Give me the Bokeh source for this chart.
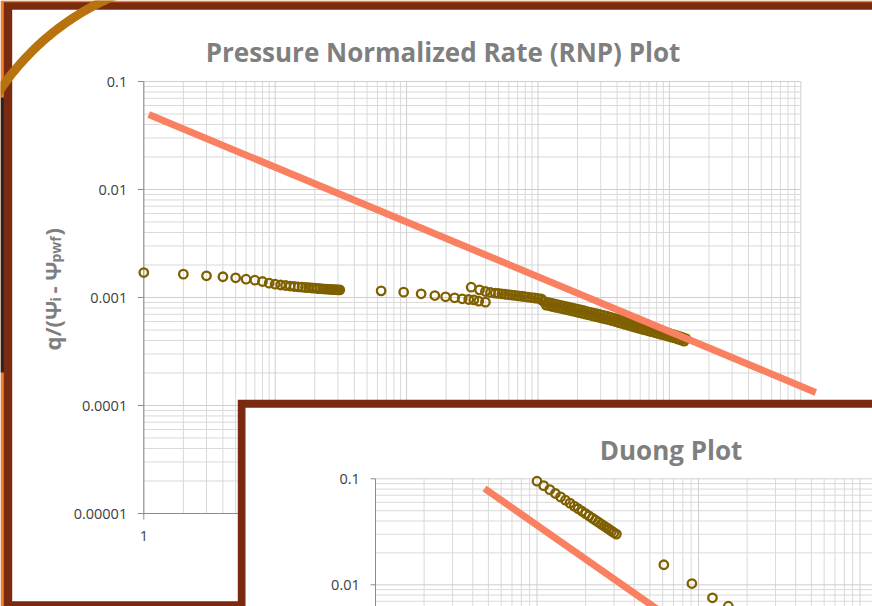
import numpy as np
from bokeh.plotting import figure
from bokeh.models import Range1d, LogScale, GlobalInlineStyleSheet, InlineStyleSheet
from bokeh.core.properties import value
from bokeh.embed import file_html
from bokeh.resources import INLINE

W, H = 872, 606

# ---------------- data: rate normalised by pseudo-pressure drop ----------------
# early daily readings (t in days)
rnp_daily_t = list(range(1, 32))
rnp_daily_q = [0.001703, 0.001644, 0.001589, 0.001556, 0.001522, 0.001477, 0.001446,
               0.001406, 0.001357, 0.001328, 0.001305, 0.001291, 0.001277, 0.001264,
               0.001256, 0.001248, 0.001237, 0.001232, 0.001224, 0.001219, 0.001211,
               0.001206, 0.001201, 0.001198, 0.001193, 0.001191, 0.001186, 0.001183,
               0.001181, 0.001178, 0.001176]
# monthly readings
rnp_monthly_t = [64, 95, 129, 164, 198, 232, 265, 297, 325, 354, 398]
rnp_monthly_q = [0.001153, 0.001120, 0.001082, 0.001043, 0.001015, 0.000994,
                 0.000973, 0.000958, 0.000952, 0.000924, 0.000905]
# later densely logged production
rnp_late_t = [310, 359, 398, 435, 473, 501, 531, 562, 596, 631, 668, 708, 750, 794,
              841, 891, 944, 1000, 1059, 1090,
              1122, 1155, 1189, 1223, 1259, 1296, 1334, 1372, 1413, 1454, 1496, 1540,
              1585, 1631, 1679, 1728, 1778, 1830, 1884, 1939, 1995, 2054, 2113, 2175,
              2239, 2304, 2371, 2441, 2512, 2585, 2661, 2738, 2818, 2901, 2985, 3073,
              3162, 3255, 3350, 3447, 3548, 3652, 3758, 3868, 3981, 4097, 4217, 4340,
              4467, 4597, 4732, 4870, 5012, 5158, 5309, 5464, 5623, 5788, 5957, 6131,
              6310, 6494, 6683, 6879, 7079, 7286, 7499, 7718, 7943, 8175, 8414, 8660,
              8913, 9173, 9441, 9716, 10000, 10292, 10593, 10902, 11220, 11548, 11885,
              12232, 12589, 12957, 13335]
rnp_late_q = [0.001245, 0.001178, 0.001137, 0.001112, 0.001099, 0.001090, 0.001081,
              0.001072, 0.001063, 0.001054, 0.001045, 0.001036, 0.001027, 0.001018,
              0.001008, 0.000999, 0.000989, 0.000980, 0.000971, 0.000928,
              0.000914, 0.000851, 0.000900, 0.000838, 0.000886, 0.000824, 0.000872,
              0.000811, 0.000858, 0.000799, 0.000845, 0.000786, 0.000831, 0.000774,
              0.000818, 0.000762, 0.000805, 0.000750, 0.000793, 0.000738, 0.000780,
              0.000725, 0.000767, 0.000713, 0.000754, 0.000701, 0.000741, 0.000690,
              0.000729, 0.000678, 0.000717, 0.000667, 0.000705, 0.000656, 0.000694,
              0.000645, 0.000682, 0.000634, 0.000671, 0.000623, 0.000658, 0.000611,
              0.000645, 0.000599, 0.000632, 0.000587, 0.000620, 0.000576, 0.000608,
              0.000564, 0.000596, 0.000553, 0.000584, 0.000542, 0.000573, 0.000532,
              0.000561, 0.000521, 0.000550, 0.000511, 0.000540, 0.000502, 0.000530,
              0.000492, 0.000520, 0.000483, 0.000510, 0.000474, 0.000500, 0.000465,
              0.000491, 0.000456, 0.000482, 0.000448, 0.000473, 0.000439, 0.000464,
              0.000431, 0.000455, 0.000423, 0.000446, 0.000413, 0.000436, 0.000404,
              0.000426, 0.000395, 0.000417]
assert len(rnp_late_t) == len(rnp_late_q)
# half-slope straight line
rnp_fit_t = [1.09, 130000]
rnp_fit_q = [0.0495, 0.000132]

# ---------------- data: Duong plot (q/Gp vs t) ----------------
duong_t = list(range(10, 32)) + [61, 91, 122, 153, 183]
duong_q = [0.0949, 0.0862, 0.0790, 0.0727, 0.0675, 0.0628, 0.0589, 0.0553, 0.0522,
           0.0494, 0.0469, 0.0447, 0.0426, 0.0407, 0.0390, 0.0374, 0.0359, 0.0346,
           0.0333, 0.0321, 0.0310, 0.0301,
           0.01545, 0.01028, 0.00754, 0.00628, 0.0052]
duong_fit_t = [4.73, 70]
duong_fit_q = [0.081, 0.0046]

# ---------------- axis ticks ----------------
rnp_x_ticks = [1, 10, 100, 1000, 10000, 100000]
rnp_x_label_ticks = [1]
rnp_x_labels = ["1"]
rnp_y_ticks = [0.1, 0.01, 0.001, 0.0001, 0.00001]
rnp_y_labels = ["0.1", "0.01", "0.001", "0.0001", "0.00001"]
duong_x_ticks = [1, 10, 100, 1000, 10000]
duong_y_ticks = [0.1, 0.01, 0.001]
duong_y_label_ticks = [0.1, 0.01]
duong_y_labels = ["0.1", "0.01"]

# ---------------- styling ----------------
ORANGE = "#EE7F2E"
BROWN = "#7A2A0E"
DARK = "#262626"
ARC = "#B8730F"
GRID = "#D9D9D9"
AXIS = "#8C8C8C"
MARK = "#7F6000"
FIT = "#FA8062"
TITLE = "#7F7F7F"
TICKTXT = "#404040"
FONT = value("Open Sans")
MSIZE, MLW = 8.5, 2.3

# plot-area placement on the page (pixels) and pixels per decade
RNP_X0, RNP_XDEC = 143.3, 131.4      # t = 1 at RNP_X0
RNP_Y0, RNP_YDEC = 81.0, 108.0       # q = 0.1 at RNP_Y0
DU_X0, DU_XDEC = 375.0, 161.5
DU_Y0, DU_YDEC = 478.3, 106.0


def log_xrange(px0, v0, dec):
    return Range1d(start=v0 * 10 ** (-px0 / dec), end=v0 * 10 ** ((W - px0) / dec))


def log_yrange(py0, v0, dec):
    return Range1d(start=v0 * 10 ** (-(H - py0) / dec), end=v0 * 10 ** (py0 / dec))


def rnp_x_at(px):
    return 10 ** ((px - RNP_X0) / RNP_XDEC)


def rnp_y_at(py):
    return 0.1 * 10 ** (-(py - RNP_Y0) / RNP_YDEC)


def du_x_at(px):
    return 10 ** ((px - DU_X0) / DU_XDEC)


NO_SCROLL = ("html, body { margin: 0; padding: 0; overflow: hidden; scrollbar-width: none; }\n"
             "::-webkit-scrollbar { display: none; width: 0; height: 0; }")

p = figure(frame_width=W, frame_height=H, x_range=Range1d(0, W), y_range=Range1d(H, 0),
           toolbar_location=None, output_backend="svg", min_border=0,
           x_axis_location=None, y_axis_location=None, title=None)
p.stylesheets = [GlobalInlineStyleSheet(css=NO_SCROLL),
                 InlineStyleSheet(css=":host { overflow: hidden; scrollbar-width: none; }\n"
                                      "* { scrollbar-width: none; }\n"
                                      "::-webkit-scrollbar { display: none; width: 0; height: 0; }")]
p.outline_line_color = None
p.background_fill_color = "white"
p.border_fill_color = "white"
p.extra_x_ranges = {"rx": log_xrange(RNP_X0, 1, RNP_XDEC),
                    "dx": log_xrange(DU_X0, 1, DU_XDEC)}
p.extra_y_ranges = {"ry": log_yrange(RNP_Y0, 0.1, RNP_YDEC),
                    "dy": log_yrange(DU_Y0, 0.1, DU_YDEC)}
p.extra_x_scales = {"rx": LogScale(), "dx": LogScale()}
p.extra_y_scales = {"ry": LogScale(), "dy": LogScale()}

R = dict(x_range_name="rx", y_range_name="ry")
D = dict(x_range_name="dx", y_range_name="dy")

# ---------------- slide frame (kept inside the page) ----------------
p.quad(left=0, right=W, top=0, bottom=H, fill_color=ORANGE, line_color=None)
p.quad(left=0, right=4, top=97, bottom=372, fill_color=DARK, line_color=None)
p.quad(left=3.3, right=W, top=1.7, bottom=H, fill_color=BROWN, line_color=None)
p.quad(left=11.7, right=W, top=9.3, bottom=600.7, fill_color="white", line_color=None)


def minors(k0, k1):
    return [m * 10.0 ** k for k in range(k0, k1) for m in range(2, 10)]


# ---------------- RNP chart ----------------
rx_min = minors(0, 5)
ry_min = minors(-5, -1)
p.segment(x0=rx_min, x1=rx_min, y0=1e-5, y1=0.1, line_color=GRID, line_width=1, **R)
p.segment(x0=1, x1=1e5, y0=ry_min, y1=ry_min, line_color=GRID, line_width=1, **R)
p.segment(x0=rnp_x_ticks, x1=rnp_x_ticks, y0=1e-5, y1=0.1, line_color="#CFCFCF", line_width=1, **R)
p.segment(x0=1, x1=1e5, y0=rnp_y_ticks, y1=rnp_y_ticks, line_color="#CFCFCF", line_width=1, **R)
# axis lines and tick marks
p.segment(x0=[1, 1], x1=[1, 1e5], y0=[1e-5, 1e-5], y1=[0.1, 1e-5], line_color=AXIS, line_width=1, **R)
p.segment(x0=rnp_x_at(RNP_X0 - 6), x1=1, y0=rnp_y_ticks, y1=rnp_y_ticks, line_color=AXIS, line_width=1, **R)
p.segment(x0=rnp_x_ticks, x1=rnp_x_ticks, y0=1e-5, y1=rnp_y_at(519), line_color=AXIS, line_width=1, **R)

for t, q in ((rnp_daily_t, rnp_daily_q), (rnp_monthly_t, rnp_monthly_q), (rnp_late_t, rnp_late_q)):
    p.scatter(t, q, marker="circle", size=MSIZE, line_color=MARK,
              line_width=MLW, fill_color=None, **R)
p.line(rnp_fit_t, rnp_fit_q, line_color=FIT, line_width=7, **R)

p.text(x=[1] * len(rnp_y_ticks), y=rnp_y_ticks, text=rnp_y_labels, x_offset=-16.6,
       text_font=FONT, text_font_size=value("14.5px"), text_color=TICKTXT,
       text_align="right", text_baseline="middle", **R)
p.text(x=rnp_x_label_ticks, y=[1e-5] * len(rnp_x_label_ticks), text=rnp_x_labels, y_offset=22.7,
       text_font=FONT, text_font_size=value("14.5px"), text_color=TICKTXT,
       text_align="center", text_baseline="middle", **R)

p.text(x=[442.5], y=[51.7], text=["Pressure Normalized Rate (RNP) Plot"],
       text_font=FONT, text_font_style="bold", text_font_size=value("26px"),
       text_color=TITLE, text_align="center", text_baseline="alphabetic")

# vertical axis title q/(Ψi - Ψpwf), pieced together for the subscripts
big = dict(text_font=FONT, text_font_style="bold", text_font_size=value("22px"),
           text_color=TITLE, angle=np.pi / 2, text_align="left", text_baseline="alphabetic")
small = dict(big, text_font_size=value("14px"))
p.text(x=[51], y=[350], text=["q/(Ψ"], **big)
p.text(x=[55], y=[301], text=["i"], **small)
p.text(x=[51], y=[293], text=["- Ψ"], **big)
p.text(x=[55], y=[262], text=["pwf"], **small)
p.text(x=[51], y=[235], text=[")"], **big)

# ---------------- Duong chart (inset slide) ----------------
p.quad(left=237.3, right=W, top=399.3, bottom=H, fill_color=BROWN, line_color=None)
p.quad(left=245, right=W, top=407.3, bottom=H, fill_color="white", line_color=None)

dx_min = minors(0, 4)
dy_min = minors(-3, -1)
p.segment(x0=dx_min, x1=dx_min, y0=1e-3, y1=0.1, line_color=GRID, line_width=1, **D)
p.segment(x0=1, x1=1e4, y0=dy_min, y1=dy_min, line_color=GRID, line_width=1, **D)
p.segment(x0=duong_x_ticks, x1=duong_x_ticks, y0=1e-3, y1=0.1, line_color="#CFCFCF", line_width=1, **D)
p.segment(x0=1, x1=1e4, y0=duong_y_ticks, y1=duong_y_ticks, line_color="#CFCFCF", line_width=1, **D)
p.segment(x0=[1], x1=[1], y0=[1e-3], y1=[0.1], line_color=AXIS, line_width=1, **D)
p.segment(x0=du_x_at(DU_X0 - 5), x1=1, y0=duong_y_ticks, y1=duong_y_ticks, line_color=AXIS, line_width=1, **D)

p.text(x=[1] * len(duong_y_label_ticks), y=duong_y_label_ticks, text=duong_y_labels, x_offset=-15.7,
       text_font=FONT, text_font_size=value("14.5px"), text_color=TICKTXT,
       text_align="right", text_baseline="middle", **D)
p.text(x=[670.5], y=[449.3], text=["Duong Plot"],
       text_font=FONT, text_font_style="bold", text_font_size=value("26px"),
       text_color=TITLE, text_align="center", text_baseline="alphabetic")

p.scatter(duong_t, duong_q, marker="circle", size=MSIZE, line_color=MARK,
          line_width=MLW, fill_color=None, **D)
p.line(duong_fit_t, duong_fit_q, line_color=FIT, line_width=7, **D)

# ---------------- decorative corner arc ----------------
ang = np.radians(np.linspace(108, 158, 60))
p.line(215 + 260 * np.cos(ang), 235 - 260 * np.sin(ang), line_color=ARC, line_width=9)

open("out.html", "w").write(file_html(p, INLINE))
